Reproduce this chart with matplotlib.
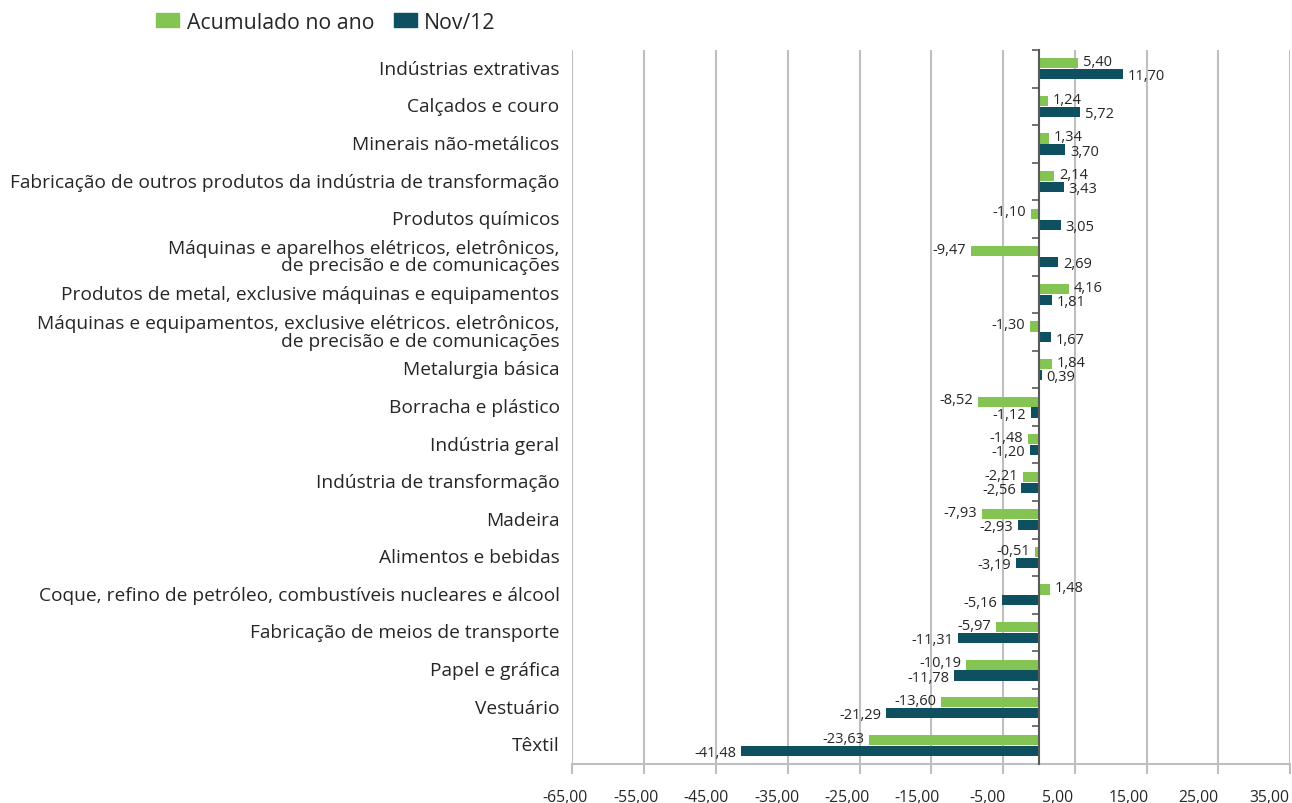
import numpy as np
import matplotlib.pyplot as plt
import matplotlib.transforms as mtransforms
from matplotlib.patches import Patch

plt.rcParams['font.family'] = ['Open Sans', 'DejaVu Sans']

categories = [
    'Indústrias extrativas',
    'Calçados e couro',
    'Minerais não-metálicos',
    'Fabricação de outros produtos da indústria de transformação',
    'Produtos químicos',
    'Máquinas e aparelhos elétricos, eletrônicos,\nde precisão e de comunicações',
    'Produtos de metal, exclusive máquinas e equipamentos',
    'Máquinas e equipamentos, exclusive elétricos. eletrônicos,\nde precisão e de comunicações',
    'Metalurgia básica',
    'Borracha e plástico',
    'Indústria geral',
    'Indústria de transformação',
    'Madeira',
    'Alimentos e bebidas',
    'Coque, refino de petróleo, combustíveis nucleares e álcool',
    'Fabricação de meios de transporte',
    'Papel e gráfica',
    'Vestuário',
    'Têxtil',
]
acumulado = [5.40, 1.24, 1.34, 2.14, -1.10, -9.47, 4.16, -1.30, 1.84, -8.52,
             -1.48, -2.21, -7.93, -0.51, 1.48, -5.97, -10.19, -13.60, -23.63]
nov12 = [11.70, 5.72, 3.70, 3.43, 3.05, 2.69, 1.81, 1.67, 0.39, -1.12,
         -1.20, -2.56, -2.93, -3.19, -5.16, -11.31, -11.78, -21.29, -41.48]
xticks = np.arange(-65, 36, 10)

green = '#84C452'
dark = '#0E5060'
grid_c = '#BFBFBF'
text_c = '#262626'


def fmt(v):
    return ('%.2f' % v).replace('.', ',')


fig = plt.figure(figsize=(12.92, 8.04), dpi=100)
ax = fig.add_axes([0.4431, 0.0485, 0.5554, 0.888])

y = np.arange(len(categories))
h = 0.27
ax.barh(y - h / 2 - 0.01, acumulado, height=h, color=green, zorder=3)
ax.barh(y + h / 2 + 0.01, nov12, height=h, color=dark, zorder=3)

# data labels
for i in range(len(categories)):
    for v, yy, dy in ((acumulado[i], y[i] - h / 2, 1.5), (nov12[i], y[i] + h / 2, -1.5)):
        off = 3.5 if v >= 0 else -3.5
        ax.annotate(fmt(v), (v, yy), xytext=(off, dy), textcoords='offset points',
                    ha='left' if v >= 0 else 'right', va='center',
                    fontsize=10.5, color=text_c, zorder=4)

# category labels at left of plot area
trans = mtransforms.blended_transform_factory(ax.transAxes, ax.transData)
for i, c in enumerate(categories):
    ax.text(-0.018, y[i], c, transform=trans, ha='right', va='center',
            fontsize=13.8, color=text_c, linespacing=0.95)

ax.set_xlim(-65, 35)
ax.set_ylim(len(categories) - 0.5, -0.5)
ax.set_xticks(xticks)
ax.set_xticklabels([])
# x tick labels sit a bit left of their ticks, as in the source chart
xtrans = mtransforms.blended_transform_factory(ax.transData, ax.transAxes)
for k, t in enumerate(xticks):
    dx = -(7 + 1.4 * k)
    tr = xtrans + mtransforms.ScaledTranslation(dx / 100, -33 / 100, fig.dpi_scale_trans)
    ax.text(t, 0, fmt(t), transform=tr, ha='center', va='center',
            fontsize=11.3, color=text_c, clip_on=False)
ax.tick_params(axis='x', direction='out', length=7, width=1.5, color=grid_c)
ax.grid(axis='x', color=grid_c, linewidth=1.5, zorder=0)

ax.spines['top'].set_visible(False)
ax.spines['right'].set_visible(False)
ax.spines['bottom'].set_color(grid_c)
ax.spines['bottom'].set_linewidth(1.5)
ax.spines['left'].set_position(('data', 0))
ax.spines['left'].set_color('#595959')
ax.spines['left'].set_linewidth(1.5)
ax.spines['left'].set_zorder(5)
ax.set_yticks(np.arange(-0.5, len(categories), 1.0))
ax.set_yticklabels([])
ax.tick_params(axis='y', direction='out', length=5, width=1.2, color='#595959')

handles = [Patch(color=green, label='Acumulado no ano'), Patch(color=dark, label='Nov/12')]
fig.legend(handles=handles, loc='upper left', bbox_to_anchor=(0.106, 1.008), ncol=2,
           frameon=False, fontsize=15.3, handlelength=1.1, handleheight=0.6,
           handletextpad=0.35, columnspacing=0.9, labelcolor=text_c)

fig.savefig('out.png', dpi=100)
